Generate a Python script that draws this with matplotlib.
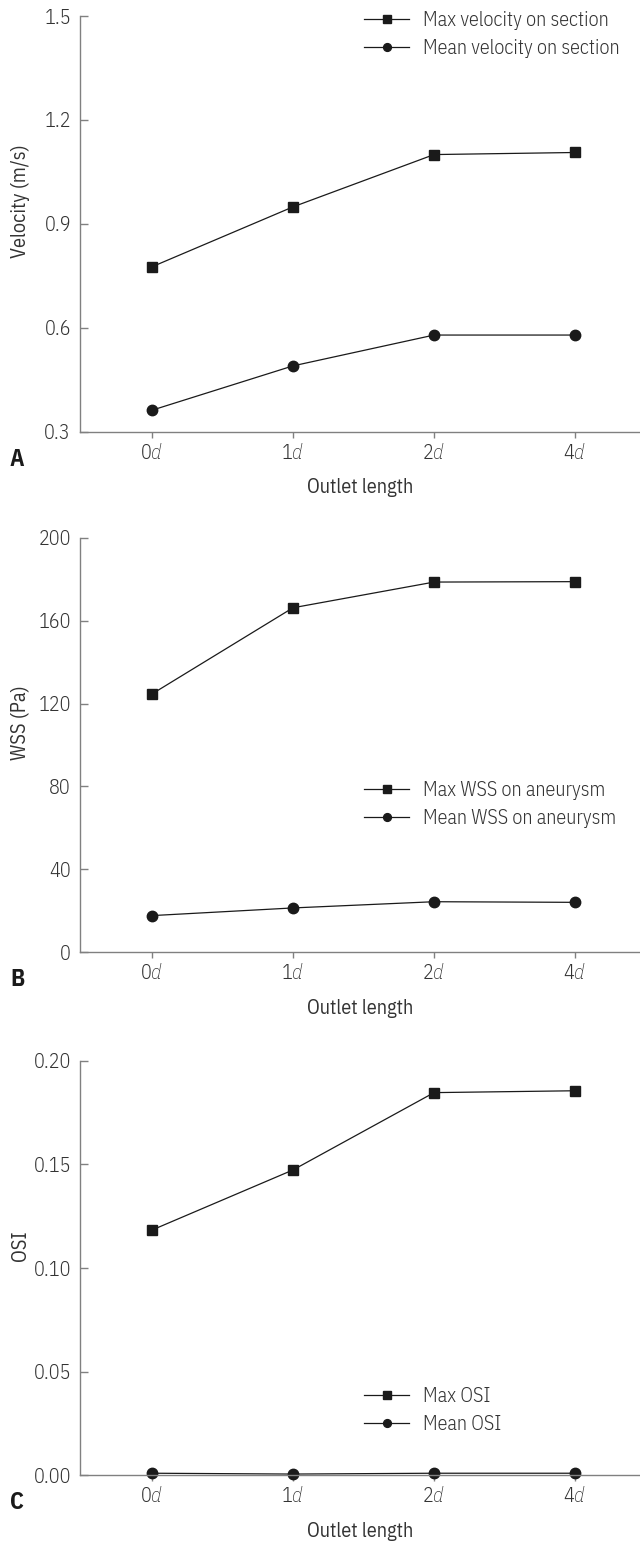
import matplotlib
matplotlib.use("Agg")
import matplotlib.pyplot as plt

FONT = "IBM Plex Sans Condensed"
plt.rcParams["font.family"] = [FONT, "DejaVu Sans"]
plt.rcParams["font.weight"] = 300
plt.rcParams["mathtext.fontset"] = "custom"
plt.rcParams["mathtext.it"] = FONT + ":italic:light"
plt.rcParams["mathtext.rm"] = FONT + ":light"

# ---- data ----
outlet = ["0$\\it{d}$", "1$\\it{d}$", "2$\\it{d}$", "4$\\it{d}$"]

vel_max = [0.776, 0.949, 1.100, 1.106]
vel_mean = [0.362, 0.490, 0.579, 0.579]

wss_max = [124.6, 166.2, 178.6, 178.8]
wss_mean = [17.7, 21.4, 24.4, 24.1]

osi_max = [0.1183, 0.1473, 0.1846, 0.1855]
osi_mean = [0.0010, 0.0006, 0.0010, 0.0010]

PANELS = [
    dict(tag="A", ylabel="Velocity (m/s)", ymax=vel_max, ymean=vel_mean,
         lab=("Max velocity on section", "Mean velocity on section"),
         ylim=(0.3, 1.5), yticks=[0.3, 0.6, 0.9, 1.2, 1.5], fmt="%.1f",
         top=16, bottom=431.7, leg_y=1.012),
    dict(tag="B", ylabel="WSS (Pa)", ymax=wss_max, ymean=wss_mean,
         lab=("Max WSS on aneurysm", "Mean WSS on aneurysm"),
         ylim=(0, 200), yticks=[0, 40, 80, 120, 160, 200], fmt="%d",
         top=537.7, bottom=952.3, leg_y=0.414),
    dict(tag="C", ylabel="OSI", ymax=osi_max, ymean=osi_mean,
         lab=("Max OSI", "Mean OSI"),
         ylim=(0, 0.20), yticks=[0.0, 0.05, 0.10, 0.15, 0.20], fmt="%.2f",
         top=1060.7, bottom=1475.3, leg_y=0.2135),
]

W, H = 640, 1542
GREY = "#808080"
LC = "#1a1a1a"
TC = "#333333"
FS = 14.5

fig = plt.figure(figsize=(W / 100, H / 100), dpi=100)
x = list(range(len(outlet)))

for p in PANELS:
    ax = fig.add_axes([80 / W, 1 - p["bottom"] / H, 560 / W, (p["bottom"] - p["top"]) / H])
    ax.plot(x, p["ymax"], color=LC, lw=0.9, marker="s", ms=7, mfc=LC, mec=LC, label=p["lab"][0])
    ax.plot(x, p["ymean"], color=LC, lw=0.9, marker="o", ms=7.5, mfc=LC, mec=LC, label=p["lab"][1])
    ax.set_xlim(-0.51, 3.46)
    ax.set_ylim(*p["ylim"])
    ax.set_xticks(x)
    ax.set_xticklabels(outlet)
    ax.set_yticks(p["yticks"])
    ax.set_yticklabels([p["fmt"] % v for v in p["yticks"]])
    for s in ("top", "right"):
        ax.spines[s].set_visible(False)
    for s in ("left", "bottom"):
        ax.spines[s].set_color(GREY)
        ax.spines[s].set_linewidth(1.0)
    ax.tick_params(axis="y", direction="in", length=6, width=1, color=GREY,
                   labelsize=FS, labelcolor=TC, pad=6.5)
    ax.tick_params(axis="x", direction="out", length=4.5, width=1, color=GREY,
                   labelsize=FS, labelcolor=TC, pad=3.5)
    ax.set_ylabel(p["ylabel"], fontsize=FS, color=TC)
    ax.yaxis.set_label_coords(-0.09, 0.555)
    ax.set_xlabel("Outlet length", fontsize=FS, color=TC, labelpad=11)
    ax.text(-0.112, -0.066, p["tag"], transform=ax.transAxes, fontsize=17,
            fontweight="bold", color=LC, ha="center", va="center")
    ax.patch.set_visible(False)
    for ln in ax.lines:
        ln.set_clip_on(False)
    ax.legend(loc="upper left", bbox_to_anchor=(0.508, p["leg_y"]), frameon=False,
              fontsize=FS, borderpad=0, borderaxespad=0, handlelength=2.2,
              handletextpad=0.7, labelspacing=0.45, markerscale=0.75,
              labelcolor=TC)

fig.savefig("out.png", dpi=100)
